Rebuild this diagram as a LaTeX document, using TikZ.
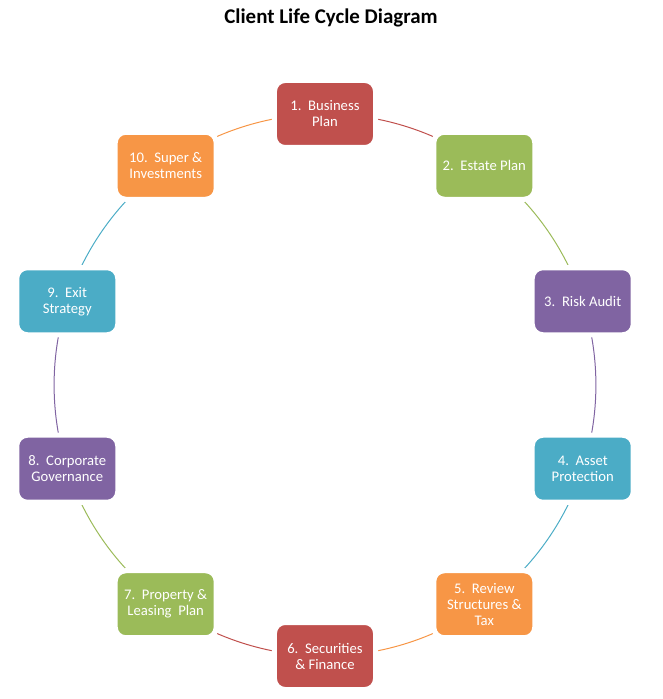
\documentclass[tikz,border=0pt]{standalone}
\usepackage{fontspec}
\setmainfont{Carlito}
\usetikzlibrary{backgrounds}
\definecolor{cred}{HTML}{C0504D}
\definecolor{cgreen}{HTML}{9BBB59}
\definecolor{cpurple}{HTML}{8064A2}
\definecolor{cteal}{HTML}{4BACC6}
\definecolor{corange}{HTML}{F79646}

\begin{document}
\begin{tikzpicture}[x=0.75pt, y=0.75pt,
  stage/.style={rectangle, rounded corners=8pt, draw=white, line width=3.8pt,
    minimum width=75.8pt, minimum height=50.3pt, inner sep=1pt,
    align=center, text=white, font=\fontsize{11}{12}\selectfont},
  ring/.style={line width=0.75pt, bend left=18, looseness=0.87}]

  \useasboundingbox (-325,-314) rectangle (337,385);
  \coordinate (O) at (0,0);
  \node[font=\fontsize{15.7}{19}\selectfont\bfseries] (T) at (6,367) {Client Life Cycle Diagram};

  \node[stage, fill=cred]    (BP) at ([shift={(90:271)}]O)   {1.~~Business\\Plan};
  \node[stage, fill=cgreen]  (EP) at ([shift={(54:271)}]O)   {2.~~Estate Plan};
  \node[stage, fill=cpurple] (RA) at ([shift={(18:271)}]O)   {3.~~Risk Audit};
  \node[stage, fill=cteal]   (AP) at ([shift={(-18:271)}]O)  {4.~~Asset\\Protection};
  \node[stage, fill=corange] (RS) at ([shift={(-54:271)}]O)  {5.~~Review\\Structures \&\\Tax};
  \node[stage, fill=cred]    (SF) at ([shift={(-90:271)}]O)  {6.~~Securities\\\& Finance};
  \node[stage, fill=cgreen]  (PL) at ([shift={(-126:271)}]O) {7.~~Property \&\\Leasing~~Plan};
  \node[stage, fill=cpurple] (CG) at ([shift={(-162:271)}]O) {8.~~Corporate\\Governance};
  \node[stage, fill=cteal]   (ES) at ([shift={(162:271)}]O)  {9.~~Exit\\Strategy};
  \node[stage, fill=corange] (SI) at ([shift={(126:271)}]O)  {10.~~Super \&\\Investments};

  \begin{scope}[on background layer]
    \draw[ring, cred]    (BP.center) to (EP.center);
    \draw[ring, cgreen]  (EP.center) to (RA.center);
    \draw[ring, cpurple] (RA.center) to (AP.center);
    \draw[ring, cteal]   (AP.center) to (RS.center);
    \draw[ring, corange] (RS.center) to (SF.center);
    \draw[ring, cred]    (SF.center) to (PL.center);
    \draw[ring, cgreen]  (PL.center) to (CG.center);
    \draw[ring, cpurple] (CG.center) to (ES.center);
    \draw[ring, cteal]   (ES.center) to (SI.center);
    \draw[ring, corange] (SI.center) to (BP.center);
  \end{scope}
\end{tikzpicture}
\end{document}
